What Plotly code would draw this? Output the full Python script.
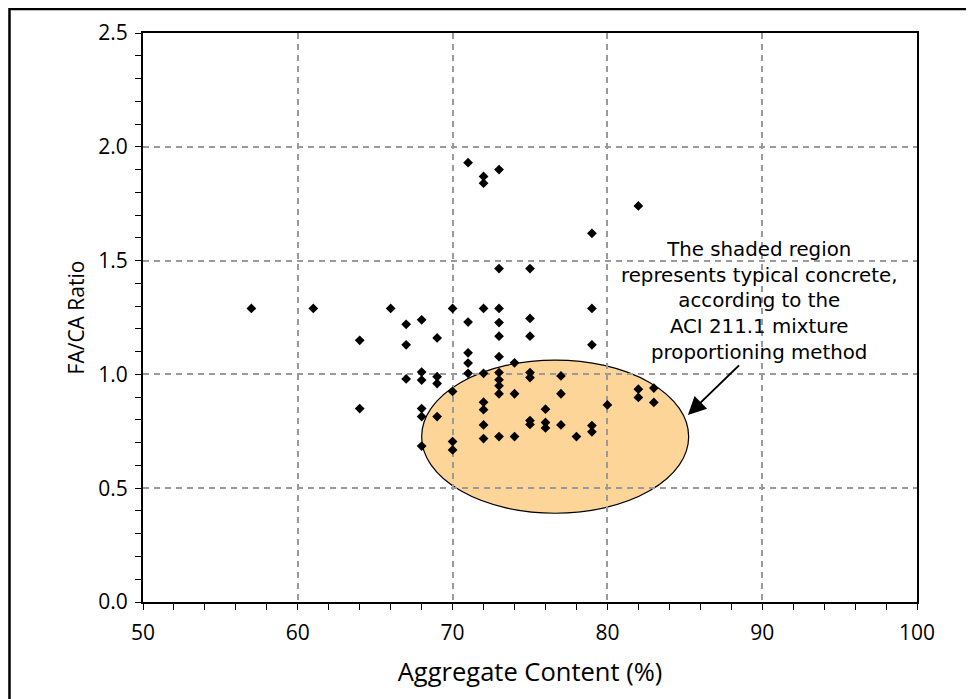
import plotly.graph_objects as go

# Data
agg_content = [
    57, 61, 64, 64, 66,
    67, 67, 67,
    68, 68, 68, 68, 68, 68,
    69, 69, 69, 69,
    70, 70, 70, 70,
    71, 71, 71, 71, 71,
    72, 72, 72, 72, 72, 72, 72, 72,
    73, 73, 73, 73, 73, 73, 73, 73, 73, 73, 73,
    74, 74, 74,
    75, 75, 75, 75, 75, 75, 75,
    76, 76, 76,
    77, 77, 77,
    78,
    79, 79, 79, 79, 79,
    80,
    82, 82, 82,
    83, 83,
]
fa_ca_ratio = [
    1.29, 1.29, 1.15, 0.85, 1.29,
    1.22, 1.13, 0.98,
    1.24, 1.01, 0.975, 0.85, 0.815, 0.685,
    1.16, 0.99, 0.96, 0.815,
    1.29, 0.925, 0.705, 0.668,
    1.93, 1.23, 1.095, 1.05, 1.005,
    1.87, 1.84, 1.29, 1.005, 0.878, 0.845, 0.778, 0.718,
    1.90, 1.465, 1.29, 1.228, 1.168, 1.078, 1.008, 0.976, 0.95, 0.915, 0.727,
    1.051, 0.915, 0.727,
    1.465, 1.246, 1.168, 1.008, 0.986, 0.797, 0.78,
    0.847, 0.789, 0.765,
    0.993, 0.915, 0.778,
    0.727,
    1.62, 1.29, 1.13, 0.775, 0.748,
    0.866,
    1.74, 0.935, 0.899,
    0.94, 0.877,
]

# Shaded region (ACI 211.1 typical concrete) bounds
region_x = [68.0, 85.25]
region_y = [0.39, 1.063]

note_lines = [
    "The shaded region",
    "represents typical concrete,",
    "according to the",
    "ACI 211.1 mixture",
    "proportioning method",
]

FONT = "Open Sans"

fig = go.Figure()
fig.add_trace(go.Scatter(
    x=agg_content, y=fa_ca_ratio, mode="markers",
    marker=dict(symbol="diamond", size=7.5, color="black"),
    showlegend=False, hoverinfo="x+y",
))

fig.add_shape(type="circle", xref="x", yref="y",
              x0=region_x[0], x1=region_x[1], y0=region_y[0], y1=region_y[1],
              fillcolor="#FDD599", line=dict(color="black", width=1.2),
              layer="below")

# Outer frame
fig.add_shape(type="rect", xref="paper", yref="paper",
              x0=-0.1725, x1=1.2, y0=-0.3, y1=1.042,
              line=dict(color="black", width=2.5), fillcolor="rgba(0,0,0,0)",
              layer="above")

# Note text
fig.add_annotation(x=89.8, y=1.324, xref="x", yref="y",
                   text="<br>".join(note_lines),
                   showarrow=False, xanchor="center", yanchor="middle", align="center",
                   font=dict(family="DejaVu Sans", size=19.8, color="black"))

# Arrow
fig.add_annotation(x=85.2, y=0.822, ax=88.6, ay=1.046, xref="x", yref="y",
                   axref="x", ayref="y", text="", showarrow=True,
                   arrowhead=2, arrowsize=1.8, arrowwidth=2, arrowcolor="black")

axis_common = dict(
    showline=True, linecolor="black", linewidth=2, mirror=True,
    ticks="outside", ticklen=6, tickwidth=1, tickcolor="black",
    showgrid=True, gridcolor="#9a9a9a", gridwidth=2, griddash="6px,5px",
    zeroline=False,
    tickfont=dict(family=FONT, size=21, color="black"),
)

fig.update_xaxes(range=[50, 100], dtick=10, tick0=50, ticklabelstandoff=5,
                 minor=dict(dtick=2, ticks="outside", ticklen=6, tickcolor="black", showgrid=False),
                 title=dict(text="Aggregate Content (%)", font=dict(family=FONT, size=25.5, color="black"), standoff=18),
                 **axis_common)
fig.update_yaxes(range=[0, 2.5], dtick=0.5, tick0=0, tickformat=".1f", ticklabelstandoff=3,
                 minor=dict(dtick=0.1, ticks="outside", ticklen=6, tickcolor="black", showgrid=False),
                 title=dict(text="FA/CA Ratio", font=dict(family=FONT, size=21, color="black"), standoff=8),
                 **axis_common)

fig.update_layout(
    width=966, height=691,
    margin=dict(l=135, r=57, t=25, b=97, autoexpand=False),
    paper_bgcolor="white", plot_bgcolor="white",
    showlegend=False,
)

fig.write_html("out.html")
